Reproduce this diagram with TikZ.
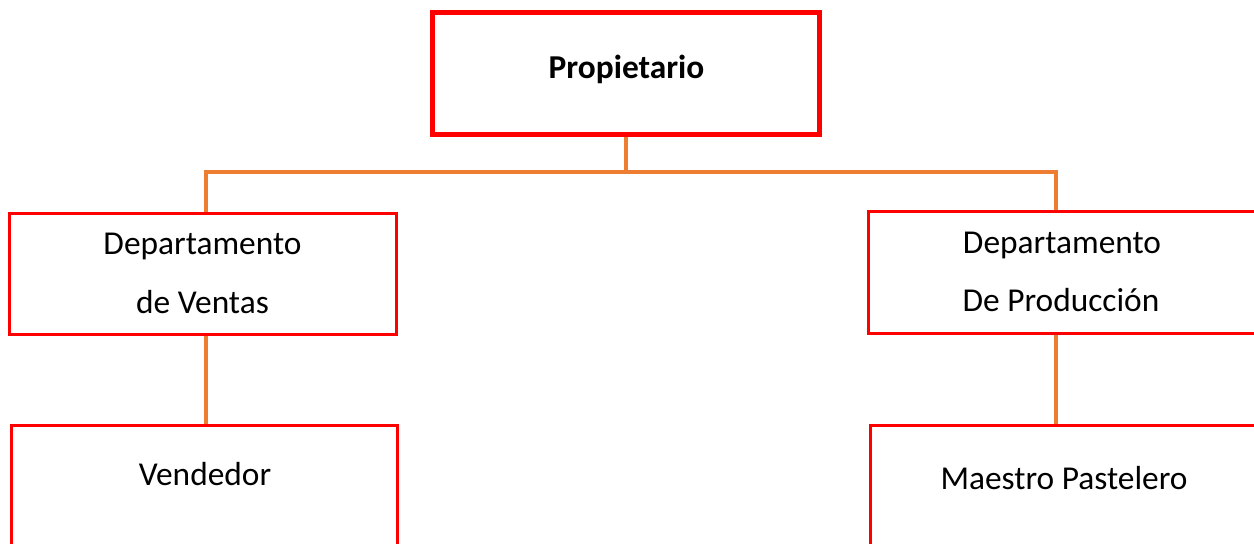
\documentclass[tikz,border=0pt]{standalone}
\usepackage{fontspec}
\setmainfont{Carlito}
\usetikzlibrary{backgrounds}
\definecolor{boxred}{HTML}{FF0000}
\definecolor{linkorange}{HTML}{ED7D31}
\begin{document}
\begin{tikzpicture}[x=0.02cm,y=-0.02cm,
  box/.style={draw=boxred,line width=0.06cm,rectangle,inner sep=0pt,fill=none},
  topbox/.style={box,line width=0.1cm},
  label text/.style={anchor=base,inner sep=0pt,font=\fontsize{19}{23}\selectfont},
  link/.style={draw=linkorange,line width=0.07cm}]
\useasboundingbox (0,0) rectangle (1254,544);
\clip (0,0) rectangle (1254,544);
% boxes
\node[topbox,minimum width=7.74cm,minimum height=2.44cm] (prop) at (626,73.5) {};
\node[box,minimum width=7.74cm,minimum height=2.426cm] (ventas) at (203,273.85) {};
\node[box,minimum width=8cm,minimum height=2.44cm] (prod) at (1068.5,272.5) {};
\node[box,minimum width=7.72cm,minimum height=4cm] (vend) at (204.5,525.5) {};
\node[box,minimum width=8cm,minimum height=4cm] (maestro) at (1070.5,525.5) {};
% texts
\node[label text,font=\fontsize{19}{23}\selectfont\bfseries] (tprop) at (626.5,79) {Propietario};
\node[label text] (tventas1) at (202.5,254.7) {Departamento};
\node[label text] (tventas2) at (202.5,313.7) {de Ventas};
\node[label text] (tprod1) at (1062,253.7) {Departamento};
\node[label text] (tprod2) at (1061,311.3) {De Producción};
\node[label text] (tvend) at (205,485.3) {Vendedor};
\node[label text] (tmaestro) at (1064,489.5) {Maestro Pastelero};
% connectors
\coordinate (jL) at (206,172);
\coordinate (jR) at (1056,172);
\begin{pgfonlayer}{background}
\draw[link] (prop.south) -- (prop.south |- jL);
\draw[link] (jL |- ventas.north) -- (jL) -- (jR) -- (jR |- prod.north);
\draw[link] (jL |- ventas.south) -- (jL |- vend.north);
\draw[link] (jR |- prod.south) -- (jR |- maestro.north);
\end{pgfonlayer}
\end{tikzpicture}
\end{document}
